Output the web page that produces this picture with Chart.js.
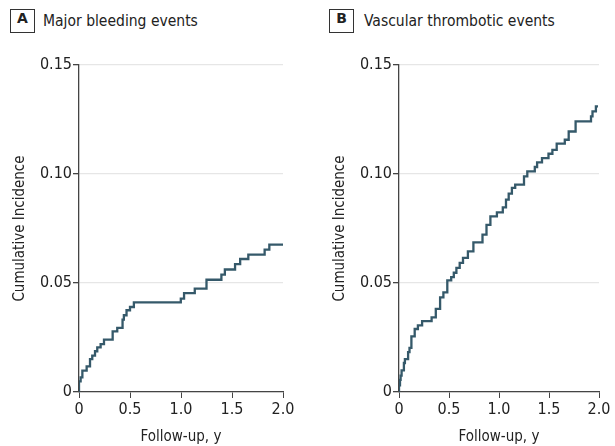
<!DOCTYPE html>
<html>
<head>
<meta charset="utf-8">
<script src="https://cdn.jsdelivr.net/npm/chart.js@4/dist/chart.umd.min.js"></script>
<style>
  body { margin: 0; background: #fff; width: 615px; height: 446px; overflow: hidden; position: relative; }
  .panel-label {
    position: absolute; top: 9px; width: 23px; height: 22px;
    border: 1px solid #333; text-align: center; line-height: 22px;
    font: bold 14px "DejaVu Sans", sans-serif; color: #222;
  }
  .panel-title {
    position: absolute; top: 12px; line-height: 20px;
    font: 15.5px "DejaVu Sans Condensed", "Liberation Sans Narrow", sans-serif; color: #222;
  }
  canvas { position: absolute; top: 45px; }
</style>
</head>
<body>
<div class="panel-label" style="left:10px">A</div>
<div class="panel-title" style="left:43px">Major bleeding events</div>
<div class="panel-label" style="left:329px">B</div>
<div class="panel-title" style="left:364px">Vascular thrombotic events</div>
<canvas id="chartA" style="left:0px" width="300" height="401"></canvas>
<canvas id="chartB" style="left:320px" width="305" height="401"></canvas>
<script>
// follow-up time (years) where the cumulative incidence steps up
const bleedTime = [0, 0, 0.016, 0.033, 0.075, 0.108, 0.13, 0.157, 0.179, 0.212, 0.245,
  0.33, 0.375, 0.427, 0.44, 0.466, 0.5, 0.538, 0.998, 1.03, 1.135, 1.25, 1.396,
  1.43, 1.53, 1.58, 1.66, 1.82, 1.866, 2.0];
const bleedIncidence = [0, 0.0049, 0.0067, 0.0098, 0.0118, 0.0151, 0.0167, 0.0187, 0.0205, 0.022, 0.024,
  0.0278, 0.0294, 0.0332, 0.0352, 0.0375, 0.039, 0.0411, 0.0428, 0.0454, 0.0474, 0.0515, 0.0538,
  0.0562, 0.0587, 0.061, 0.063, 0.0653, 0.0676, 0.0676];

const thrombTime = [0, 0, 0.01, 0.016, 0.026, 0.049, 0.059, 0.091, 0.105, 0.124, 0.157,
  0.189, 0.231, 0.326, 0.368, 0.411, 0.444, 0.483, 0.522, 0.548, 0.574, 0.607, 0.64,
  0.689, 0.744, 0.835, 0.875, 0.914, 0.979, 1.038, 1.07, 1.097, 1.129, 1.162, 1.25,
  1.283, 1.358, 1.381, 1.43, 1.495, 1.534, 1.577, 1.658, 1.697, 1.766, 1.92, 1.935,
  1.969, 1.99];
const thrombIncidence = [0, 0.003, 0.0056, 0.0075, 0.0099, 0.0133, 0.0151, 0.0183, 0.0202, 0.0255, 0.0289,
  0.0306, 0.0325, 0.0342, 0.0381, 0.0434, 0.0457, 0.0512, 0.0527, 0.0547, 0.0569, 0.0592, 0.0615,
  0.0645, 0.0686, 0.0722, 0.0767, 0.0806, 0.0824, 0.0847, 0.0882, 0.091, 0.0936, 0.0951, 0.0989,
  0.1012, 0.1032, 0.1053, 0.1073, 0.1093, 0.1111, 0.1139, 0.1157, 0.1195, 0.1241, 0.1264, 0.1287,
  0.131, 0.131];

const xTickLabels = ["0", "0.5", "1.0", "1.5", "2.0"];
const yTickLabels = ["0", "0.05", "0.10", "0.15"];

const lineColor = "#35596a";
const axisColor = "#444";
const textColor = "#222";
const condensed = "'DejaVu Sans Condensed', 'Liberation Sans Narrow', sans-serif";

function makeChart(canvasId, times, values, padRight) {
  const ctx = document.getElementById(canvasId).getContext("2d");
  return new Chart(ctx, {
    type: "line",
    data: {
      datasets: [
        {
          data: times.map((t, i) => ({ x: t, y: values[i] })),
          borderColor: lineColor,
          borderWidth: 2.3,
          pointRadius: 0,
          stepped: "before",
          fill: false,
        },
      ],
    },
    options: {
      responsive: false,
      animation: false,
      layout: { padding: { top: 20, right: padRight, bottom: 0, left: 0 } },
      plugins: { legend: { display: false }, tooltip: { enabled: false } },
      scales: {
        x: {
          type: "linear",
          min: 0,
          max: 2,
          afterFit: (scale) => { scale.height = 54; },
          border: { color: axisColor, width: 1.3 },
          grid: { drawOnChartArea: false, drawTicks: true, tickLength: 6, tickColor: axisColor },
          ticks: {
            stepSize: 0.5,
            padding: 2,
            color: textColor,
            font: { family: condensed, size: 16 },
            callback: (value, index) => xTickLabels[index],
          },
          title: {
            display: true,
            text: "Follow-up, y",
            color: textColor,
            font: { family: condensed, size: 15 },
            padding: { top: 2, bottom: 0 },
          },
        },
        y: {
          min: 0,
          max: 0.15,
          afterFit: (scale) => { scale.width = 79; },
          border: { color: axisColor, width: 1.3 },
          grid: { color: "#e6e6e6", lineWidth: 1.3, tickLength: 6, tickColor: axisColor },
          ticks: {
            stepSize: 0.05,
            padding: 1,
            color: textColor,
            font: { family: condensed, size: 16 },
            callback: (value, index) => yTickLabels[index],
          },
          title: {
            display: true,
            text: "Cumulative Incidence",
            color: textColor,
            font: { family: condensed, size: 15 },
            padding: { top: 11, bottom: 0 },
          },
        },
      },
    },
  });
}

makeChart("chartA", bleedTime, bleedIncidence, 17);
makeChart("chartB", thrombTime, thrombIncidence, 26);
</script>
</body>
</html>
